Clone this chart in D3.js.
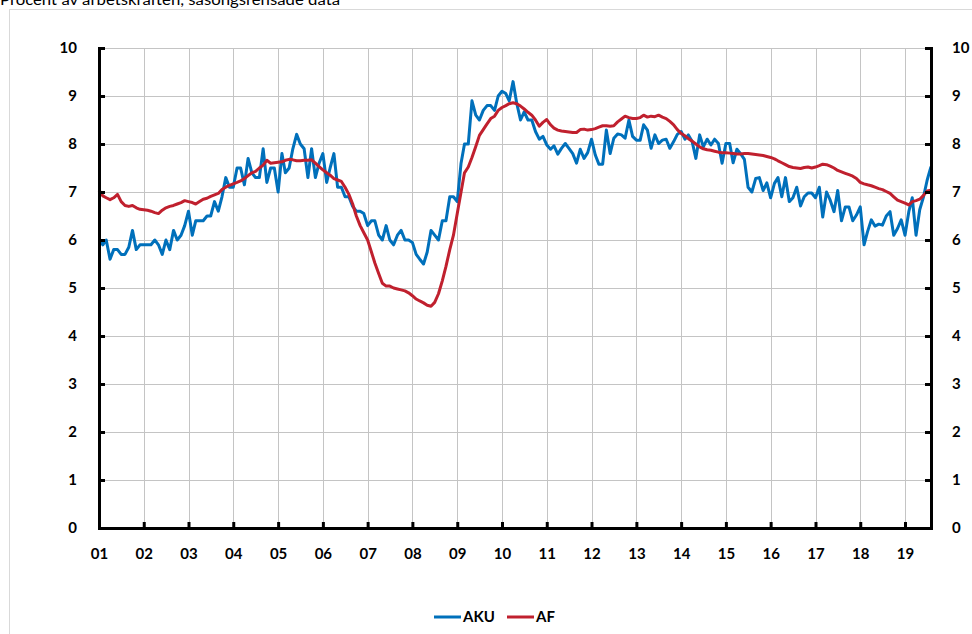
<!DOCTYPE html>
<html>
<head>
<meta charset="utf-8">
<script src="https://cdnjs.cloudflare.com/ajax/libs/d3/7.8.5/d3.min.js"></script>
<style>
    body { margin: 0; background: #fff; }
    .axis text { font-family: Lato, "Open Sans", sans-serif; font-weight: bold; font-size: 15px; fill: #000; }
    .axis .domain { stroke: #000; stroke-width: 3; }
    .axis .tick line { stroke: #000; stroke-width: 3; }
    .grid line { stroke: #c4c4c4; stroke-width: 1; }
</style>
</head>
<body>
<div id="chart"></div>
<script>

// month series, starting january 2001
var startDate = new Date(2001, 0, 1);

var yearLabels = ["01","02","03","04","05","06","07","08","09","10",
    "11","12","13","14","15","16","17","18","19"];

var yTicks = [0, 1, 2, 3, 4, 5, 6, 7, 8, 9, 10];

var seriesNames = ["AKU", "AF"];

// AKU, seasonally adjusted
var aku = [
    6.0, 5.9, 6.0, 5.6, 5.8, 5.8, 5.7, 5.7, 5.85, 6.2, 5.8, 5.9,
    5.9, 5.9, 5.9, 6.0, 5.9, 5.7, 6.0, 5.8, 6.2, 6.0, 6.1, 6.3,
    6.6, 6.1, 6.4, 6.4, 6.4, 6.5, 6.5, 6.8, 6.6, 6.9, 7.3, 7.1,
    7.1, 7.5, 7.5, 7.15, 7.7, 7.4, 7.3, 7.3, 7.9, 7.2, 7.5, 7.5,
    7.0, 7.8, 7.4, 7.5, 7.9, 8.2, 8.0, 7.9, 7.3, 7.9, 7.3, 7.6,
    7.8, 7.2, 7.5, 7.8, 7.1, 7.1, 6.9, 6.9, 6.7, 6.6, 6.6, 6.55,
    6.3, 6.4, 6.4, 6.1, 6.0, 6.3, 6.0, 5.9, 6.1, 6.2, 6.0, 6.0,
    5.95, 5.7, 5.6, 5.5, 5.75, 6.2, 6.1, 6.0, 6.4, 6.4, 6.9, 6.9,
    6.8, 7.6, 8.0, 8.0, 8.9, 8.6, 8.5, 8.7, 8.8, 8.8, 8.7, 9.0,
    9.1, 9.05, 8.9, 9.3, 8.85, 8.5, 8.67, 8.5, 8.5, 8.26, 8.1, 8.16,
    7.98, 7.89, 7.96, 7.79, 7.91, 8.01, 7.91, 7.8, 7.6, 7.89, 7.7, 7.82,
    8.1, 7.77, 7.58, 7.58, 8.29, 7.8, 8.12, 8.21, 8.19, 8.12, 8.5, 8.16,
    8.08, 8.08, 8.4, 8.29, 7.91, 8.19, 8.01, 8.08, 8.1, 7.91, 8.05, 8.2,
    8.26, 8.1, 8.19, 8.05, 7.7, 8.19, 7.94, 8.1, 7.98, 8.1, 8.01, 7.6,
    8.01, 8.01, 7.61, 7.89, 7.8, 7.68, 7.1, 7.0, 7.28, 7.3, 7.03, 7.19,
    6.88, 7.18, 7.3, 6.9, 7.3, 6.8, 6.88, 7.1, 6.71, 6.9, 6.98, 6.98,
    6.88, 7.1, 6.48, 7.0, 6.83, 6.59, 7.03, 6.4, 6.69, 6.69, 6.4, 6.52,
    6.69, 5.9, 6.17, 6.42, 6.29, 6.33, 6.31, 6.5, 6.59, 6.1, 6.24, 6.42,
    6.1, 6.59, 6.88, 6.1, 6.63, 6.9, 7.25, 7.53
];

// AF (Arbetsförmedlingen)
var af = [
    7.04, 6.92, 6.88, 6.84, 6.88, 6.95, 6.8, 6.72, 6.7, 6.72, 6.67, 6.64,
    6.63, 6.62, 6.6, 6.57, 6.55, 6.62, 6.67, 6.7, 6.72, 6.75, 6.78, 6.82,
    6.8, 6.78, 6.75, 6.8, 6.85, 6.87, 6.91, 6.94, 6.97, 7.05, 7.1, 7.14,
    7.17, 7.2, 7.23, 7.28, 7.34, 7.4, 7.43, 7.5, 7.56, 7.66, 7.6, 7.61,
    7.62, 7.63, 7.66, 7.68, 7.67, 7.65, 7.65, 7.66, 7.66, 7.67, 7.6, 7.53,
    7.46, 7.4, 7.35, 7.28, 7.25, 7.22, 7.1, 6.95, 6.75, 6.5, 6.3, 6.15,
    6.0, 5.75, 5.52, 5.3, 5.1, 5.04, 5.04, 5.0, 4.98, 4.96, 4.94, 4.9,
    4.84, 4.77, 4.73, 4.69, 4.64, 4.62, 4.7, 4.88, 5.15, 5.45, 5.8, 6.1,
    6.55, 7.0, 7.4, 7.52, 7.72, 7.95, 8.18, 8.3, 8.42, 8.53, 8.58, 8.7,
    8.76, 8.8, 8.84, 8.86, 8.84, 8.79, 8.73, 8.66, 8.6, 8.5, 8.37, 8.45,
    8.51, 8.4, 8.33, 8.29, 8.27, 8.26, 8.25, 8.24, 8.24, 8.3, 8.31, 8.29,
    8.3, 8.32, 8.35, 8.38, 8.38, 8.37, 8.38, 8.46, 8.52, 8.58, 8.55, 8.53,
    8.53, 8.55, 8.6, 8.56, 8.58, 8.57, 8.6, 8.56, 8.53, 8.47, 8.4, 8.3,
    8.22, 8.17, 8.11, 8.06, 8.0, 7.94, 7.9, 7.88, 7.87, 7.85, 7.83, 7.82,
    7.82, 7.81, 7.8, 7.79, 7.79, 7.8, 7.8, 7.79, 7.78, 7.77, 7.76, 7.74,
    7.72, 7.69, 7.65, 7.61, 7.57, 7.53, 7.51, 7.5, 7.49, 7.51, 7.52, 7.5,
    7.52, 7.55, 7.58, 7.57, 7.54, 7.5, 7.45, 7.42, 7.39, 7.36, 7.33, 7.28,
    7.2, 7.17, 7.15, 7.13, 7.1, 7.07, 7.05, 7.01, 6.97, 6.9, 6.83, 6.8,
    6.77, 6.73, 6.8, 6.82, 6.85, 6.93, 7.02, 7.04
];

var seriesColors = ["#0070bb", "#c0202e"];


LineChart = function(_parentElement){
    this.parentElement = _parentElement;
    this.initVis();
}

LineChart.prototype.initVis = function() {
    var vis = this;

    vis.margin = {top: 48, right: 41, bottom: 106, left: 99};
    vis.width = 972 - vis.margin.left - vis.margin.right;
    vis.height = 634 - vis.margin.top - vis.margin.bottom;

    vis.svg = d3.select("#" + vis.parentElement).append("svg")
        .attr("width", 972)
        .attr("height", 634);

    // chart area border (runs off the picture on the right and bottom)
    vis.svg.append("rect")
        .attr("x", 9.5).attr("y", 9.5)
        .attr("width", 1000).attr("height", 1000)
        .attr("fill", "none")
        .attr("stroke", "#d9d9d9");

    // sheet title, its upper half sits above the picture like in the original
    vis.svg.append("text")
        .attr("x", 0).attr("y", 5)
        .style("font-family", "Lato, sans-serif")
        .style("font-size", "15px")
        .attr("textLength", 340)
        .attr("lengthAdjust", "spacingAndGlyphs")
        .attr("fill", "#000")
        .text("Procent av arbetskraften, säsongsrensade data");

    vis.g = vis.svg.append("g")
        .attr("transform", "translate(" + vis.margin.left + "," + vis.margin.top + ")");

    vis.x = d3.scaleTime()
        .domain([startDate, d3.timeMonth.offset(startDate, aku.length - 1)])
        .range([0, vis.width]);

    vis.y = d3.scaleLinear()
        .domain([0, 10])
        .range([vis.height, 0]);

    vis.years = d3.timeYear.range(startDate, d3.timeMonth.offset(startDate, aku.length));

    // grid
    var grid = vis.g.append("g").attr("class", "grid");
    grid.selectAll(".hgrid")
        .data(yTicks.filter(function(d) { return d > 0; }))
        .enter().append("line")
        .attr("x1", 0).attr("x2", vis.width)
        .attr("y1", function(d) { return Math.round(vis.y(d)) + 0.5; })
        .attr("y2", function(d) { return Math.round(vis.y(d)) + 0.5; });
    grid.selectAll(".vgrid")
        .data(vis.years.slice(1))
        .enter().append("line")
        .attr("y1", 0).attr("y2", vis.height)
        .attr("x1", function(d) { return Math.round(vis.x(d)) + 0.5; })
        .attr("x2", function(d) { return Math.round(vis.x(d)) + 0.5; });

    vis.line = d3.line()
        .x(function(d, i) { return vis.x(d3.timeMonth.offset(startDate, i)); })
        .y(function(d) { return vis.y(d); });

    vis.g.selectAll(".series")
        .data([aku, af])
        .enter().append("path")
        .attr("class", "series")
        .attr("d", vis.line)
        .attr("fill", "none")
        .attr("stroke", function(d, i) { return seriesColors[i]; })
        .attr("stroke-width", 3)
        .attr("stroke-linejoin", "round");

    // axes, ticks point into the plot
    vis.g.append("g")
        .attr("class", "axis")
        .call(d3.axisLeft(vis.y).tickValues(yTicks).tickSize(-6).tickSizeOuter(0).tickPadding(22));

    vis.g.append("g")
        .attr("class", "axis")
        .attr("transform", "translate(" + vis.width + ",0)")
        .call(d3.axisRight(vis.y).tickValues(yTicks).tickSize(-6).tickSizeOuter(0).tickPadding(21));

    vis.g.append("g")
        .attr("class", "axis")
        .attr("transform", "translate(0," + vis.height + ")")
        .call(d3.axisBottom(vis.x).tickValues(vis.years).tickSize(-6).tickSizeOuter(0).tickPadding(20)
            .tickFormat(function(d, i) { return yearLabels[i]; }));

    vis.g.selectAll(".axis .domain").attr("stroke-linecap", "square");

    // legend
    var legend = vis.svg.append("g");
    var lx = [434, 507];
    seriesNames.forEach(function(name, i) {
        legend.append("line")
            .attr("x1", lx[i]).attr("x2", lx[i] + 27)
            .attr("y1", 617).attr("y2", 617)
            .attr("stroke", seriesColors[i])
            .attr("stroke-width", 3);
        legend.append("text")
            .attr("x", lx[i] + 29).attr("y", 622)
            .style("font-family", "Lato, sans-serif")
            .style("font-weight", "bold")
            .style("font-size", "15px")
            .text(name);
    });
}

var chart = new LineChart("chart");

</script>
</body>
</html>
